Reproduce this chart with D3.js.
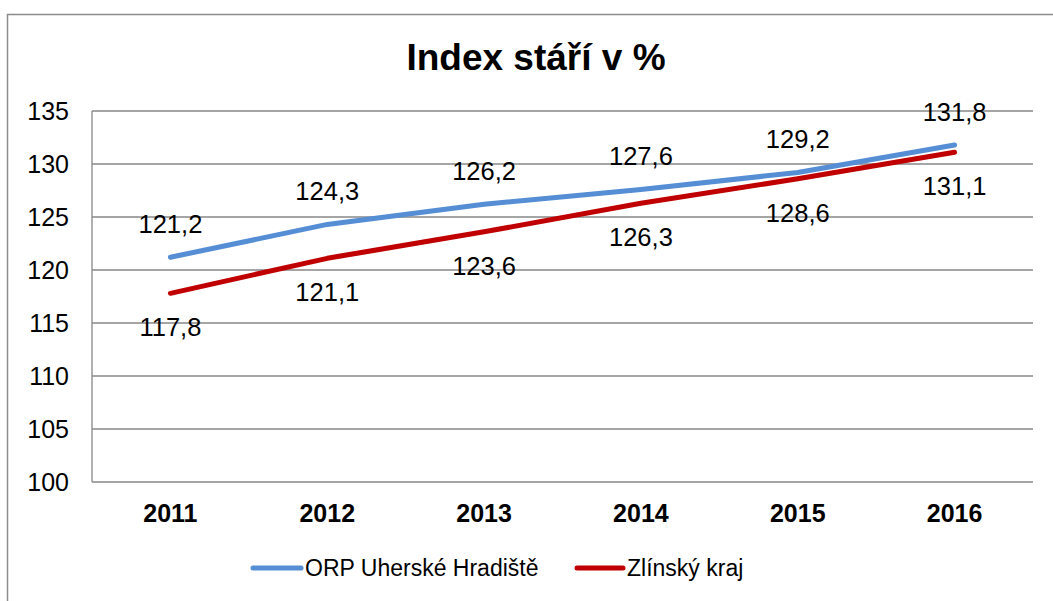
<!DOCTYPE html>
<html>
<head>
<meta charset="utf-8">
<script src="https://cdn.jsdelivr.net/npm/d3@7"></script>
<style>
  body { margin: 0; background: #fff; }
  svg { display: block; font-family: Arial, "Liberation Sans", sans-serif; }
</style>
</head>
<body>
<svg id="chart" width="1053" height="601"></svg>
<script>
// Data
const years = ["2011", "2012", "2013", "2014", "2015", "2016"];
const orpValues = [121.2, 124.3, 126.2, 127.6, 129.2, 131.8];
const krajValues = [117.8, 121.1, 123.6, 126.3, 128.6, 131.1];
const yTicks = [100, 105, 110, 115, 120, 125, 130, 135];
const seriesNames = ["ORP Uherské Hradiště", "Zlínský kraj"];

let margin = { top: 111, left: 92, right: 1033, bottom: 482 },
  gridColor = "#878787",
  orpColor = "#558ed5",
  krajColor = "#c00000",
  lineWidth = 5;

const svg = d3.select("#chart");

// outer chart border (runs off the right/bottom edge)
svg.append("rect")
  .attr("x", 7.5).attr("y", 14.5)
  .attr("width", 1100).attr("height", 700)
  .attr("fill", "none")
  .attr("stroke", "#8c8c8c")
  .attr("stroke-width", 1.5);

// title
svg.append("text")
  .attr("x", 536).attr("y", 70)
  .attr("text-anchor", "middle")
  .attr("font-size", 37)
  .attr("font-weight", "bold")
  .text("Index stáří v %");

const x = d3.scaleBand().domain(years).range([margin.left, margin.right]);
const y = d3.scaleLinear().domain([100, 135]).range([margin.bottom, margin.top]);

// gridlines
svg.append("g")
  .selectAll("line")
  .data(yTicks)
  .join("line")
  .attr("x1", margin.left).attr("x2", margin.right)
  .attr("y1", d => y(d)).attr("y2", d => y(d))
  .attr("stroke", gridColor)
  .attr("stroke-width", 1.3);

// y axis line
svg.append("line")
  .attr("x1", margin.left).attr("x2", margin.left)
  .attr("y1", margin.top).attr("y2", margin.bottom)
  .attr("stroke", gridColor)
  .attr("stroke-width", 1.3);

// y tick labels
svg.append("g")
  .selectAll("text")
  .data(yTicks)
  .join("text")
  .attr("x", 69)
  .attr("y", d => y(d) + 9)
  .attr("text-anchor", "end")
  .attr("font-size", 25)
  .text(d => d);

// x tick labels
svg.append("g")
  .selectAll("text")
  .data(years)
  .join("text")
  .attr("x", d => x(d) + x.bandwidth() / 2)
  .attr("y", 522)
  .attr("text-anchor", "middle")
  .attr("font-size", 25)
  .attr("font-weight", "bold")
  .text(d => d);

const line = d3.line()
  .x((d, i) => x(years[i]) + x.bandwidth() / 2)
  .y(d => y(d));

// Zlínský kraj first so blue sits on top
[[krajValues, krajColor, 43], [orpValues, orpColor, -24]].forEach(([vals, color, dy]) => {
  svg.append("path")
    .datum(vals)
    .attr("d", line)
    .attr("fill", "none")
    .attr("stroke", color)
    .attr("stroke-width", lineWidth)
    .attr("stroke-linecap", "round")
    .attr("stroke-linejoin", "round");

  // data labels
  svg.append("g")
    .selectAll("text")
    .data(vals)
    .join("text")
    .attr("x", (d, i) => x(years[i]) + x.bandwidth() / 2)
    .attr("y", d => y(d) + dy)
    .attr("text-anchor", "middle")
    .attr("font-size", 25.5)
    .text(d => d3.format(".1f")(d).replace(".", ","));
});

// legend
const legendItems = [
  { name: seriesNames[0], color: orpColor, x1: 253, x2: 301, tx: 305 },
  { name: seriesNames[1], color: krajColor, x1: 577, x2: 623, tx: 627 }
];
const legend = svg.append("g");
legendItems.forEach(item => {
  legend.append("line")
    .attr("x1", item.x1).attr("x2", item.x2)
    .attr("y1", 568).attr("y2", 568)
    .attr("stroke", item.color)
    .attr("stroke-width", lineWidth)
    .attr("stroke-linecap", "round");
  legend.append("text")
    .attr("x", item.tx).attr("y", 576)
    .attr("font-size", 23)
    .text(item.name);
});
</script>
</body>
</html>
